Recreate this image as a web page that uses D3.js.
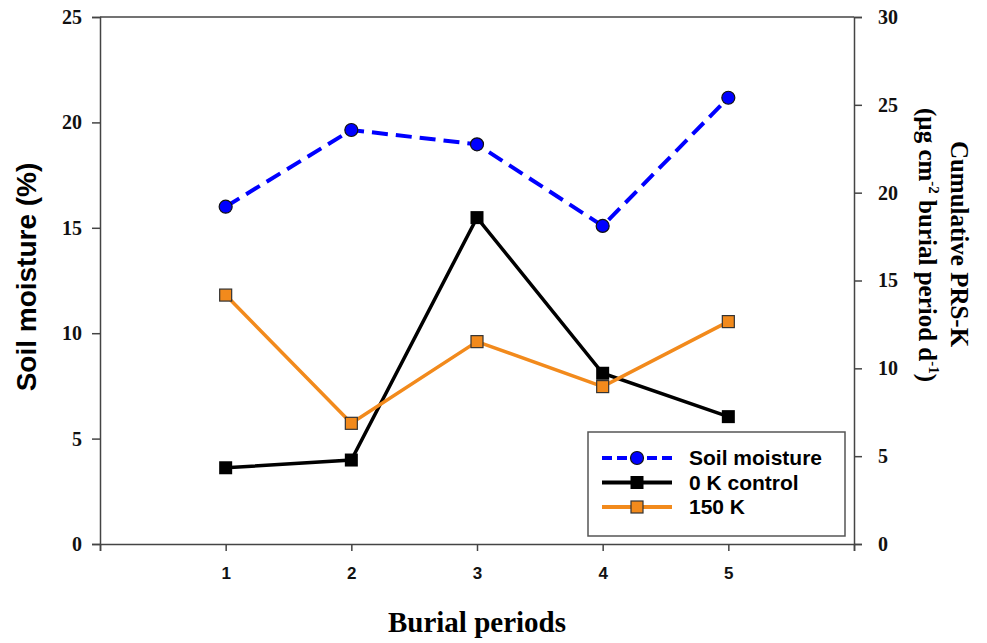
<!DOCTYPE html>
<html>
<head>
<meta charset="utf-8">
<script src="https://cdn.jsdelivr.net/npm/d3@7"></script>
<style>
  body { margin: 0; background: #fff; }
</style>
</head>
<body>
<div id="chart"></div>
<script>
const periods = [1, 2, 3, 4, 5];
const soilMoisture = [16.0, 19.64, 18.96, 15.09, 21.17];
const control0K = [4.34, 4.78, 18.58, 9.72, 7.25];
const k150 = [14.17, 6.87, 11.52, 8.96, 12.66];
const leftTicks = [0, 5, 10, 15, 20, 25];
const rightTicks = [0, 5, 10, 15, 20, 25, 30];

const svg = d3.select("#chart")
    .append("svg")
    .attr("width", 987)
    .attr("height", 643);

const x = d3.scaleLinear().domain([0, 6]).range([100, 854]);
const yL = d3.scaleLinear().domain([0, 25]).range([544, 17]);
const yR = d3.scaleLinear().domain([0, 30]).range([544, 17]);

const axisColor = "#444";

// frame top line
svg.append("line")
    .attr("x1", x(0)).attr("x2", x(6))
    .attr("y1", yL(25)).attr("y2", yL(25))
    .attr("stroke", axisColor).attr("stroke-width", 1.5);

// left axis
const gL = svg.append("g")
    .attr("transform", `translate(${x(0)},0)`)
    .call(d3.axisLeft(yL).tickValues(leftTicks).tickSize(8).tickPadding(10));
gL.selectAll("text")
    .style("font-family", "'Liberation Serif', 'Times New Roman', serif")
    .style("font-weight", "bold")
    .style("font-size", "20px")
    .attr("fill", "#111");

// right axis
const gR = svg.append("g")
    .attr("transform", `translate(${x(6)},0)`)
    .call(d3.axisRight(yR).tickValues(rightTicks).tickSize(8).tickPadding(16));
gR.selectAll("text")
    .style("font-family", "'Liberation Serif', 'Times New Roman', serif")
    .style("font-weight", "bold")
    .style("font-size", "20px")
    .attr("fill", "#111");

// bottom axis
const gB = svg.append("g")
    .attr("transform", `translate(0,${yL(0)})`)
    .call(d3.axisBottom(x).tickValues([0, 1, 2, 3, 4, 5, 6]).tickSize(7).tickPadding(16)
        .tickFormat(d => (d >= 1 && d <= 5) ? d : ""));
gB.selectAll("text")
    .style("font-family", "'Liberation Sans', Arial, sans-serif")
    .style("font-weight", "bold")
    .style("font-size", "17px")
    .attr("fill", "#111");

[gL, gR, gB].forEach(g => {
    g.select(".domain").attr("stroke", axisColor).attr("stroke-width", 1.5);
    g.selectAll(".tick line").attr("stroke", axisColor).attr("stroke-width", 1.5);
});

// titles
svg.append("text")
    .attr("transform", "translate(36,277) rotate(-90)")
    .attr("text-anchor", "middle")
    .style("font-family", "'Liberation Sans', Arial, sans-serif")
    .style("font-weight", "bold")
    .style("font-size", "28px")
    .text("Soil moisture (%)");

svg.append("text")
    .attr("x", 477).attr("y", 632)
    .attr("text-anchor", "middle")
    .style("font-family", "'Liberation Serif', 'Times New Roman', serif")
    .style("font-weight", "bold")
    .style("font-size", "29px")
    .text("Burial periods");

const rt = svg.append("g")
    .style("font-family", "'Liberation Serif', 'Times New Roman', serif")
    .style("font-weight", "bold")
    .style("font-size", "25px");
rt.append("text")
    .attr("transform", "translate(951,244) rotate(90)")
    .attr("text-anchor", "middle")
    .text("Cumulative PRS-K");
const t2 = rt.append("text")
    .attr("transform", "translate(919,245) rotate(90)")
    .attr("text-anchor", "middle");
t2.append("tspan").text("(µg cm");
t2.append("tspan").attr("dy", -10).style("font-size", "15px").text("-2");
t2.append("tspan").attr("dy", 10).text(" burial period d");
t2.append("tspan").attr("dy", -10).style("font-size", "15px").text("-1");
t2.append("tspan").attr("dy", 10).text(")");

// series
const blue = "#0000ff";
const orange = "#f28a1c";

function drawLine(vals, yScale, color, width, dash) {
    const line = d3.line().x((d, i) => x(periods[i])).y(d => yScale(d));
    svg.append("path")
        .datum(vals)
        .attr("d", line)
        .attr("fill", "none")
        .attr("stroke", color)
        .attr("stroke-width", width)
        .attr("stroke-dasharray", dash || null);
}

drawLine(control0K, yR, "#000", 3.5);
drawLine(k150, yR, orange, 3.5);
drawLine(soilMoisture, yL, blue, 4, "16,8");

svg.append("g").selectAll("rect")
    .data(control0K).join("rect")
    .attr("x", (d, i) => x(periods[i]) - 6.5)
    .attr("y", d => yR(d) - 6.5)
    .attr("width", 13).attr("height", 13)
    .attr("fill", "#000");

svg.append("g").selectAll("rect")
    .data(k150).join("rect")
    .attr("x", (d, i) => x(periods[i]) - 6)
    .attr("y", d => yR(d) - 6)
    .attr("width", 12).attr("height", 12)
    .attr("fill", orange)
    .attr("stroke", "#333").attr("stroke-width", 1.2);

svg.append("g").selectAll("circle")
    .data(soilMoisture).join("circle")
    .attr("cx", (d, i) => x(periods[i]))
    .attr("cy", d => yL(d))
    .attr("r", 6.5)
    .attr("fill", blue)
    .attr("stroke", "#111").attr("stroke-width", 1.2);

// legend
const legendItems = [
    { name: "Soil moisture", color: blue, dash: "10,5", marker: "circle" },
    { name: "0 K control", color: "#000", dash: null, marker: "square" },
    { name: "150 K", color: orange, dash: null, marker: "osquare" }
];

const legend = svg.append("g");
legend.append("rect")
    .attr("x", 588).attr("y", 432)
    .attr("width", 257).attr("height", 104)
    .attr("fill", "#fff")
    .attr("stroke", "#555").attr("stroke-width", 1.5);

legendItems.forEach((it, i) => {
    const cy = 458 + i * 24.5;
    legend.append("line")
        .attr("x1", 602).attr("x2", 672)
        .attr("y1", cy).attr("y2", cy)
        .attr("stroke", it.color).attr("stroke-width", 4)
        .attr("stroke-dasharray", it.dash);
    if (it.marker === "circle") {
        legend.append("circle").attr("cx", 637).attr("cy", cy).attr("r", 6.5)
            .attr("fill", it.color).attr("stroke", "#111").attr("stroke-width", 1.2);
    } else if (it.marker === "square") {
        legend.append("rect").attr("x", 637 - 6.5).attr("y", cy - 6.5)
            .attr("width", 13).attr("height", 13).attr("fill", "#000");
    } else {
        legend.append("rect").attr("x", 637 - 6).attr("y", cy - 6)
            .attr("width", 12).attr("height", 12).attr("fill", it.color)
            .attr("stroke", "#333").attr("stroke-width", 1.2);
    }
    legend.append("text")
        .attr("x", 689).attr("y", cy + 7)
        .style("font-family", "'Liberation Sans', Arial, sans-serif")
        .style("font-weight", "bold")
        .style("font-size", "21px")
        .text(it.name);
});
</script>
</body>
</html>
